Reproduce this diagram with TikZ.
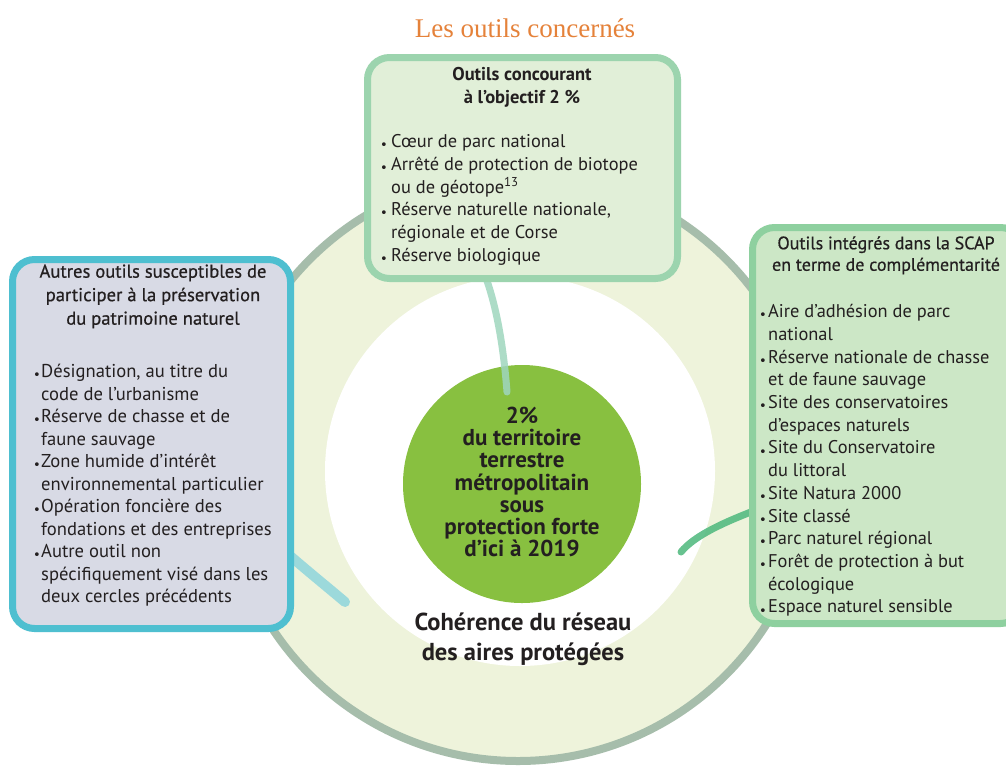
\documentclass[tikz,border=0pt]{standalone}
\usepackage{fontspec}
\setmainfont{PT Sans}
\newfontfamily\serifttl{Liberation Serif}
\newfontfamily\medfont{PT Sans}[FakeBold=0.6]
\newfontfamily\bulfont{DejaVu Sans}
\usetikzlibrary{calc}
\definecolor{ringfill}{HTML}{EEF3DB}
\definecolor{ringc}{HTML}{A6BDAB}
\definecolor{corec}{HTML}{88C040}
\definecolor{topf}{HTML}{E1EFD8}
\definecolor{topb}{HTML}{9CD4AE}
\definecolor{leftf}{HTML}{D8DAE5}
\definecolor{leftb}{HTML}{4EBFD0}
\definecolor{rightf}{HTML}{CCE7C6}
\definecolor{rightb}{HTML}{8ED09F}
\definecolor{orangec}{HTML}{E5823A}
\definecolor{txt}{HTML}{231F20}
\definecolor{topconn}{HTML}{9FD6BE}
\definecolor{leftconn}{HTML}{8ED5DB}
\definecolor{rightconn}{HTML}{4DB87C}
\newcommand{\bu}[1][9pt]{\makebox[#1][l]{\raisebox{-2.2pt}{\bulfont\fontsize{13}{13}\selectfont •}}}
\newcommand{\ind}[1][9pt]{\hspace*{#1}}
\begin{document}
\begin{tikzpicture}[x=1pt,y=-1pt,
  boxstyle/.style={draw, line width=7pt, rounded corners=22pt, inner sep=0pt, anchor=north west},
  listtext/.style={anchor=north west, inner sep=0pt, align=left, text=txt, font=\fontsize{18.4}{22.7}\selectfont},
  ttltext/.style={anchor=north, inner sep=0pt, align=center, text=txt},
  conn/.style={line cap=round, opacity=0.85}]
\useasboundingbox (0,0) rectangle (1006,769);
\fill[white] (0,0) rectangle (1006,769);
% title
\node[text=orangec, font=\serifttl\fontsize{27}{30}\selectfont, inner sep=0pt] (title) at (525,28) {Les outils concernés};
% circles
\node[circle, draw=ringc, line width=8pt, fill=ringfill, minimum size=588pt, inner sep=0pt] (ring) at (518,467) {};
\node[circle, fill=white, minimum size=390pt, inner sep=0pt] (inner) at (520,471) {};
\node[circle, fill=corec, minimum size=238pt, inner sep=0pt] (core) at (522,484) {};
% connectors
\coordinate (t1) at (483,270);
\coordinate (t2) at (507,392);
\draw[conn, topconn, line width=7pt] (t1) .. controls (495,300) and (503,340) .. (t2);
\coordinate (l1) at (272,540);
\coordinate (l2) at (345,602);
\draw[conn, leftconn, line width=10pt] (l1) .. controls (300,565) and (325,585) .. (l2);
\coordinate (r1) at (756,510);
\coordinate (r2) at (681,552);
\draw[conn, rightconn, line width=7pt] (r1) .. controls (725,522) and (695,535) .. (r2);
% boxes
\node[boxstyle, draw=topb, fill=topf, minimum width=310pt, minimum height=221pt] (topbox) at (364,54) {};
\node[boxstyle, draw=leftb, fill=leftf, minimum width=278pt, minimum height=369pt] (leftbox) at (9,256) {};
\node[boxstyle, draw=rightb, fill=rightf, minimum width=270pt, minimum height=396pt] (rightbox) at (749,224) {};
% top box text
\node[ttltext, font=\fontsize{18.5}{23}\selectfont\bfseries] (toptitle) at (522,64) {\strut Outils concourant\\à l’objectif 2~\%};
\node[listtext] (toplist) at (380,131.6) {\strut\bu[11pt]Cœur de parc national\\
\bu[11pt]Arrêté de protection de biotope\\
\ind[11pt]ou de géotope\textsuperscript{13}\\
\bu[11pt]Réserve naturelle nationale,\\
\ind[11pt]régionale et de Corse\\
\bu[11pt]Réserve biologique};
% left box text
\node[ttltext, font=\medfont\fontsize{18.6}{23.5}\selectfont] (lefttitle) at (153,261) {\strut Autres outils susceptibles de\\participer à la préservation\\du patrimoine naturel};
\node[listtext, font=\fontsize{18.6}{22.5}\selectfont] (leftlist) at (33,361.8) {\strut\bu[8pt]Désignation, au titre du\\
\ind[8pt]code de l’urbanisme\\
\bu[8pt]Réserve de chasse et de\\
\ind[8pt]faune sauvage\\
\bu[8pt]Zone humide d’intérêt\\
\ind[8pt]environnemental particulier\\
\bu[8pt]Opération foncière des\\
\ind[8pt]fondations et des entreprises\\
\bu[8pt]Autre outil non\\
\ind[8pt]spécifiquement visé dans les\\
\ind[8pt]deux cercles précédents};
% right box text
\node[ttltext, font=\medfont\fontsize{18}{21.5}\selectfont] (righttitle) at (886,234) {\strut Outils intégrés dans la SCAP\\en terme de complémentarité};
\node[listtext] (rightlist) at (759,301.6) {\strut\bu Aire d’adhésion de parc\\
\ind national\\
\bu Réserve nationale de chasse\\
\ind et de faune sauvage\\
\bu Site des conservatoires\\
\ind d’espaces naturels\\
\bu Site du Conservatoire\\
\ind du littoral\\
\bu Site Natura 2000\\
\bu Site classé\\
\bu Parc naturel régional\\
\bu Forêt de protection à but\\
\ind écologique\\
\bu Espace naturel sensible};
% center texts
\node[align=center, text=txt, font=\fontsize{23}{22.3}\selectfont\bfseries, inner sep=0pt] (coretext) at (522,482) {2\%\\du territoire\\terrestre\\métropolitain\\sous\\protection forte\\d’ici à 2019};
\node[align=center, text=txt, font=\fontsize{24.5}{30}\selectfont\bfseries, inner sep=0pt] (coherence) at (523,639) {Cohérence du réseau\\des aires protégées};
\end{tikzpicture}
\end{document}
